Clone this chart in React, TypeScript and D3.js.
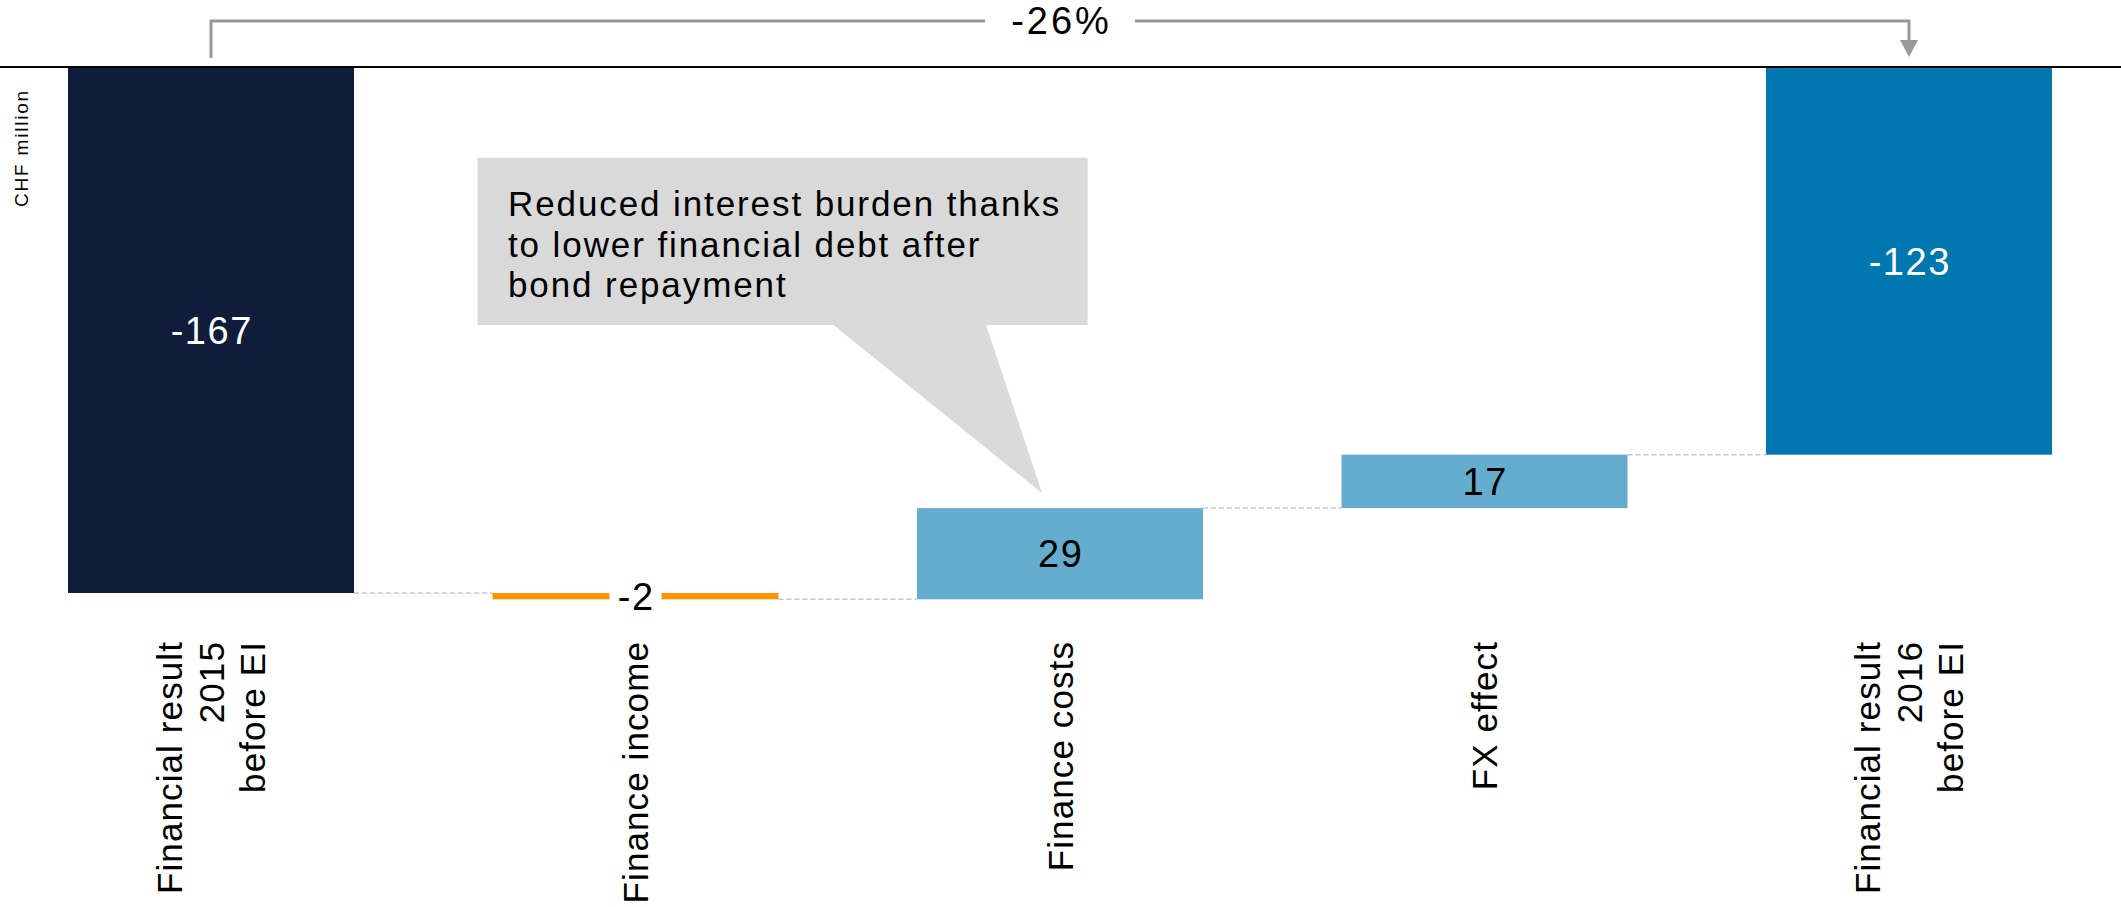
import React from "react";
import * as d3 from "d3";

// ---------- data ----------
const categoryLines: string[][] = [
  ["Financial result", "2015", "before EI"],
  ["Finance income"],
  ["Finance costs"],
  ["FX effect"],
  ["Financial result", "2016", "before EI"],
];
const categories = categoryLines.map((l) => l.join(" "));
const values = [-167, -2, 29, 17, -123];
const kinds = ["total", "delta", "delta", "delta", "total"];
const valueLabels = ["-167", "-2", "29", "17", "-123"];
const changeLabel = "-26%";
const unitLabel = "CHF million";
const calloutLines = [
  "Reduced interest burden thanks",
  "to lower financial debt after",
  "bond repayment",
];

// ---------- layout ----------
const W = 2121;
const H = 907;
const FONT = "'Liberation Sans', Arial, Helvetica, sans-serif";
const NAVY = "#0F1C3A";
const BLUE = "#0077AE";
const LIGHT = "#65ADCE";
const ORANGE = "#FF9300";
const GRAY = "#999999";

export default function App() {
  const x = d3.scalePoint<string>().domain(categories).range([211, 1909]);
  const barW = 286;
  const y = d3.scaleLinear().domain([0, -167]).range([68, 593]);

  let running = 0;
  const steps = values.map((v, i) => {
    let start: number, end: number;
    if (kinds[i] === "total") {
      start = 0;
      end = v;
    } else {
      start = running;
      end = running + v;
    }
    running = end;
    return { start, end, v, i, cat: categories[i] };
  });

  const colorFor = (i: number) => {
    if (i === 0) return NAVY;
    if (kinds[i] === "total") return BLUE;
    return values[i] < 0 ? ORANGE : LIGHT;
  };

  const valFont = 38;
  const capH = 0.716 * valFont;

  // bracket
  const bx0 = x(categories[0])!;
  const bx1 = x(categories[4])!;
  const bY = 21;
  const bMid = (bx0 + bx1) / 2;
  const gap = 75;

  // callout anchored to finance costs bar
  const tipX = x(categories[2])! - 18;
  const tipY = y(steps[2].end) - 15;
  const box = { x0: 477.5, y0: 157.7, x1: 1087.6, y1: 325 };
  const calloutPath = `M${box.x0},${box.y0} H${box.x1} V${box.y1} H986 L${tipX},${tipY} L833.5,${box.y1} H${box.x0} Z`;

  const labelFont = 35;
  const labelLS = 41.5;
  const labelCap = 0.716 * labelFont;

  return (
    <div style={{ position: "absolute", left: 0, top: 0, width: W, height: H, background: "#fff" }}>
      <svg width={W} height={H} style={{ display: "block", fontFamily: FONT }}>
        {/* axis line */}
        <line x1={0} x2={W} y1={y(0) - 1} y2={y(0) - 1} stroke="#000" strokeWidth={2.2} />

        {/* unit label */}
        <text
          transform={`translate(28, 89) rotate(-90)`}
          textAnchor="end"
          fontSize={19}
          letterSpacing={1.8}
          fill="#000"
        >
          {unitLabel}
        </text>

        {/* connectors */}
        {steps.slice(0, -1).map((s, i) => (
          <line
            key={"c" + i}
            x1={x(s.cat)! + barW / 2}
            x2={x(categories[i + 1])! - barW / 2}
            y1={y(s.end)}
            y2={y(s.end)}
            stroke="#C8C8C8"
            strokeWidth={1.5}
            strokeDasharray="5,3"
          />
        ))}

        {/* bars */}
        {steps.map((s) => {
          const y0 = Math.min(y(s.start), y(s.end));
          const h = Math.abs(y(s.start) - y(s.end));
          return (
            <rect
              key={"b" + s.i}
              x={x(s.cat)! - barW / 2}
              y={y0}
              width={barW}
              height={h}
              fill={colorFor(s.i)}
            />
          );
        })}

        {/* value labels */}
        {steps.map((s) => {
          const mid = (y(s.start) + y(s.end)) / 2;
          const h = Math.abs(y(s.start) - y(s.end));
          const cx = x(s.cat)!;
          const white = kinds[s.i] === "total";
          return (
            <g key={"v" + s.i}>
              {h < 20 && (
                <rect x={cx - 26} y={mid - 8} width={52} height={16} fill="#fff" />
              )}
              <text
                x={cx + 0.75}
                y={mid + capH / 2}
                textAnchor="middle"
                fontSize={valFont}
                letterSpacing={1.5}
                fill={white ? "#fff" : "#000"}
              >
                {valueLabels[s.i]}
              </text>
            </g>
          );
        })}

        {/* category labels (rotated) */}
        {categoryLines.map((lines, i) => {
          const cx = x(categories[i])!;
          const n = lines.length;
          const y0 = labelCap / 2 - ((n - 1) * labelLS) / 2;
          return (
            <text
              key={"l" + i}
              transform={`translate(${cx}, 641) rotate(-90)`}
              textAnchor="end"
              fontSize={labelFont}
              letterSpacing={1.1}
              fill="#000"
            >
              {lines.map((ln, j) => (
                <tspan key={j} x={0} y={y0 + j * labelLS}>
                  {ln}
                </tspan>
              ))}
            </text>
          );
        })}

        {/* bracket with change */}
        <path
          d={`M${bx0},58 V${bY} H${bMid - gap}`}
          fill="none"
          stroke={GRAY}
          strokeWidth={3}
        />
        <path
          d={`M${bMid + gap},${bY} H${bx1} V42`}
          fill="none"
          stroke={GRAY}
          strokeWidth={3}
        />
        <polygon points={`${bx1 - 9},40 ${bx1 + 9},40 ${bx1},57`} fill={GRAY} />
        <text
          x={bMid + 1.5}
          y={34}
          textAnchor="middle"
          fontSize={38}
          letterSpacing={3}
          fill="#000"
        >
          {changeLabel}
        </text>

        {/* callout */}
        <path d={calloutPath} fill="#D9D9D9" />
        <text fontSize={35} letterSpacing={1.9} fill="#000">
          {calloutLines.map((ln, j) => (
            <tspan key={j} x={508} y={216 + j * 40.5}>
              {ln}
            </tspan>
          ))}
        </text>
      </svg>
    </div>
  );
}
